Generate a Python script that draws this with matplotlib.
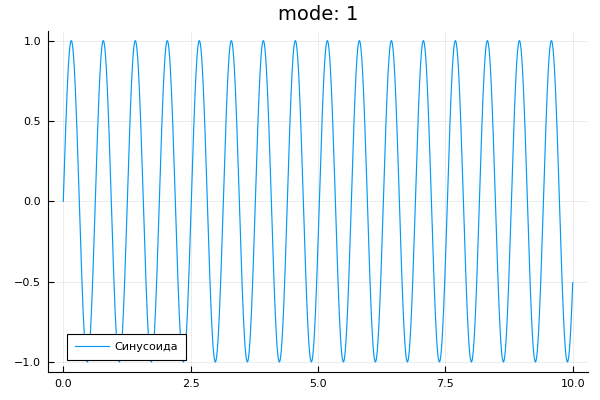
import numpy as np
import matplotlib
matplotlib.use('Agg')
import matplotlib.pyplot as plt

# curve: a sine wave, amplitude 1, 10 rad per unit, x from 0 to 10
title_text = 'mode: 1'
series_label = 'Синусоида'
x_start = 0.0
x_end = 10.0
amplitude = 1.0
frequency = 10.0
x_ticks = [0.0, 2.5, 5.0, 7.5, 10.0]
y_ticks = [-1.0, -0.5, 0.0, 0.5, 1.0]

x = np.linspace(x_start, x_end, 2001)
y = amplitude*np.sin(frequency*x)

plt.rcParams['font.family'] = ['DejaVu Sans']
fig = plt.figure(figsize=(6, 4), dpi=100)
ax = fig.add_axes([0.08, 0.071, 0.90, 0.8515])
ax.plot(x, y, color='#009AFA', linewidth=0.85, label=series_label)

ax.set_xlim(-0.3, 10.3)
ax.set_ylim(-1.06, 1.06)
ax.set_xticks(x_ticks)
ax.set_yticks(y_ticks)
ax.set_xticklabels(['%.1f' % t for t in x_ticks])
ax.set_yticklabels([('%.1f' % t).replace('-', '\u2212') for t in y_ticks])
ax.tick_params(direction='in', length=4, width=0.8, labelsize=8, pad=5)
ax.grid(True, color='black', alpha=0.1, linewidth=0.5)
ax.spines['top'].set_visible(False)
ax.spines['right'].set_visible(False)
ax.set_title(title_text, fontsize=14, pad=8)

leg = ax.legend(loc='lower left', fontsize=8, fancybox=False, framealpha=1,
                edgecolor='black', handlelength=3.1, handletextpad=0.5,
                borderpad=0.7, borderaxespad=0.0,
                bbox_to_anchor=(0.035, 0.034))
leg.get_frame().set_linewidth(0.8)

fig.savefig('out.png', dpi=100)
